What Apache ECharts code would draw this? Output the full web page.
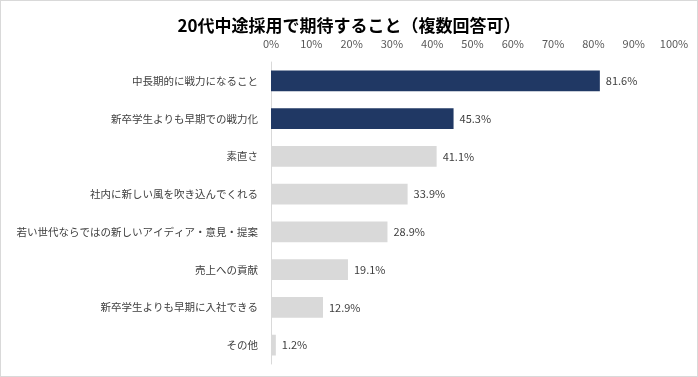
<!DOCTYPE html>
<html>
<head>
<meta charset="utf-8">
<script src="https://cdn.jsdelivr.net/npm/echarts@6/dist/echarts.min.js"></script>
<style>
  html, body { margin: 0; padding: 0; background: #fff; }
  #chart { width: 696px; height: 375px; border: 1px solid #d9d9d9; }
</style>
</head>
<body>
<div id="chart"></div>
<script>
// 回答項目と割合（%）
const categories = [
  '中長期的に戦力になること',
  '新卒学生よりも早期での戦力化',
  '素直さ',
  '社内に新しい風を吹き込んでくれる',
  '若い世代ならではの新しいアイディア・意見・提案',
  '売上への貢献',
  '新卒学生よりも早期に入社できる',
  'その他'
];
const values = [81.6, 45.3, 41.1, 33.9, 28.9, 19.1, 12.9, 1.2];
const highlightCount = 2; // 上位2項目は紺色
const tickValues = [0, 10, 20, 30, 40, 50, 60, 70, 80, 90, 100];

const NAVY = '#203864';
const GRAY = '#d9d9d9';
const FONT = '"Noto Sans CJK JP", "Noto Sans", sans-serif';

const chart = echarts.init(document.getElementById('chart'));

const option = {
  animation: false,
  title: {
    text: '20代中途採用で期待すること（複数回答可）',
    left: 'center',
    top: 11,
    textStyle: {
      color: '#000',
      fontFamily: FONT,
      fontSize: 17,
      fontWeight: 'bold'
    }
  },
  grid: {
    left: 270,
    right: 23,
    top: 61,
    bottom: 12
  },
  xAxis: {
    type: 'value',
    position: 'top',
    min: tickValues[0],
    max: tickValues[tickValues.length - 1],
    interval: 10,
    axisLine: { show: false },
    axisTick: { show: false },
    splitLine: { show: false },
    axisLabel: {
      margin: 13,
      color: '#595959',
      fontFamily: FONT,
      fontSize: 11,
      formatter: '{value}%'
    }
  },
  yAxis: {
    type: 'category',
    inverse: true,
    data: categories,
    axisLine: { lineStyle: { color: GRAY, width: 1 } },
    axisTick: { show: false },
    axisLabel: {
      margin: 13,
      color: '#404040',
      fontFamily: FONT,
      fontSize: 10.5
    }
  },
  series: [{
    type: 'bar',
    barCategoryGap: '45%',
    data: values.map((v, i) => ({
      value: v,
      itemStyle: { color: i < highlightCount ? NAVY : GRAY }
    })),
    label: {
      show: true,
      position: 'right',
      distance: 6,
      color: '#404040',
      fontFamily: FONT,
      fontSize: 11,
      formatter: (p) => p.value.toFixed(1) + '%'
    }
  }]
};

chart.setOption(option);
</script>
</body>
</html>
